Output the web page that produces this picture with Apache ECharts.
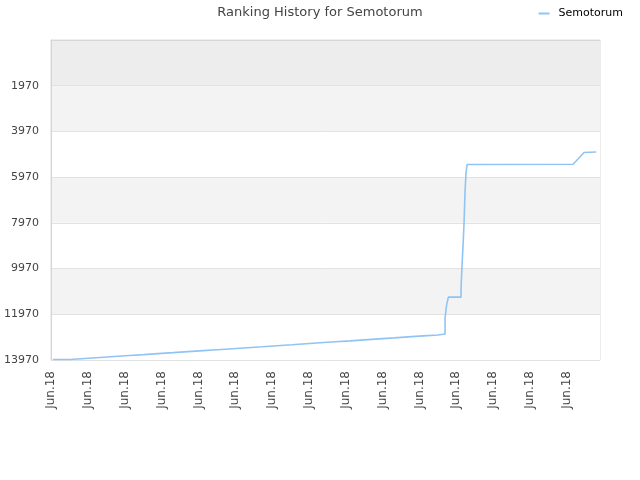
<!DOCTYPE html>
<html>
<head>
<meta charset="utf-8">
<script src="https://cdn.jsdelivr.net/npm/echarts@6/dist/echarts.min.js"></script>
<style>html,body{margin:0;padding:0;background:#fff}#c{width:640px;height:480px}</style>
</head>
<body>
<div id="c"></div>
<script>
const titleText = 'Ranking History for Semotorum';
const seriesName = 'Semotorum';
const xTickLabel = 'Jun.18';
const yMin = -30, yMax = 13970, yStep = 2000;
const xMin = 0, xMax = 149, xStep = 10;

// time position (in chart time units) and rank at each point of the series
const times = [
  0.5, 5.2, 5.2, 9.2, 9.2, 13.3, 13.3, 17.1, 17.1, 21.2, 21.2, 25.2, 25.2,
  29.0, 29.0, 33.1, 33.1, 37.2, 37.2, 41.3, 41.3, 45.1, 45.1, 49.3, 49.3,
  53.2, 53.2, 57.3, 57.3, 61.3, 61.3, 65.4, 65.4, 69.2, 69.2, 73.0, 73.0,
  77.1, 77.1, 81.2, 81.2, 85.0, 85.0, 89.0, 89.0, 93.1, 93.1, 96.9, 96.9,
  101.0, 101.0, 105.0, 105.0,
  106.95, 106.95, 107.36, 107.85, 111.29, 111.29, 111.56, 111.83, 112.11,
  112.38, 112.65, 112.92, 113.46, 141.69, 144.68, 147.94
];
const ranks = [
  13948, 13948, 13905, 13905, 13862, 13862, 13820, 13820, 13776, 13776, 13733, 13733, 13690,
  13690, 13648, 13648, 13604, 13604, 13561, 13561, 13519, 13519, 13475, 13475, 13432,
  13432, 13390, 13390, 13346, 13346, 13303, 13303, 13261, 13261, 13217, 13217, 13174,
  13174, 13132, 13132, 13088, 13088, 13045, 13045, 13003, 13003, 12959, 12959, 12916,
  12916, 12873, 12873, 12830,
  12830, 12137, 11570, 11221, 11221, 10785, 9825, 8952, 7948,
  6552, 5766, 5417, 5404, 5404, 4894, 4872
];

const data = times.map((t, i) => [t, ranks[i]]);
const font = 'DejaVu Sans';

const chart = echarts.init(document.getElementById('c'), null, {renderer: 'canvas'});
chart.setOption({
  animation: false,
  backgroundColor: '#fff',
  title: {
    text: titleText,
    left: 'center',
    top: 1,
    textStyle: {fontFamily: font, fontSize: 13, fontWeight: 'normal', color: '#444'}
  },
  legend: {
    data: [seriesName],
    right: 12,
    top: 3,
    itemWidth: 11,
    itemHeight: 2,
    itemGap: 5,
    icon: 'rect',
    textStyle: {fontFamily: font, fontSize: 11, color: '#000', padding: [0, 0, 0, 4]}
  },
  grid: {left: 51, right: 40, top: 40, bottom: 120, show: true, borderColor: '#dcdcdc', borderWidth: 1},
  xAxis: {
    type: 'value',
    min: xMin, max: xMax, interval: xStep,
    axisLine: {show: true, lineStyle: {color: '#d6d6d6'}},
    axisTick: {show: false},
    splitLine: {show: false},
    axisLabel: {
      rotate: 90, showMaxLabel: false, margin: 11,
      fontFamily: font, fontSize: 12, color: '#444',
      formatter: () => xTickLabel
    }
  },
  yAxis: {
    type: 'value',
    inverse: true,
    min: yMin, max: yMax, interval: yStep,
    axisLine: {show: true, lineStyle: {color: '#d6d6d6'}},
    axisTick: {show: false},
    axisLabel: {
      showMinLabel: false, margin: 12, fontFamily: font, fontSize: 11, color: '#444',
      formatter: v => String(v)
    },
    splitLine: {show: true, lineStyle: {color: '#e2e2e2'}},
    splitArea: {show: true, areaStyle: {color: ['#ededed', '#f3f3f3', '#ffffff', '#f3f3f3', '#ffffff', '#f3f3f3', '#ffffff']}}
  },
  series: [{
    name: seriesName,
    type: 'line',
    data: data,
    symbol: 'none',
    lineStyle: {color: '#90c4f4', width: 1.6},
    itemStyle: {color: '#90c4f4'}
  }]
});
</script>
</body>
</html>
